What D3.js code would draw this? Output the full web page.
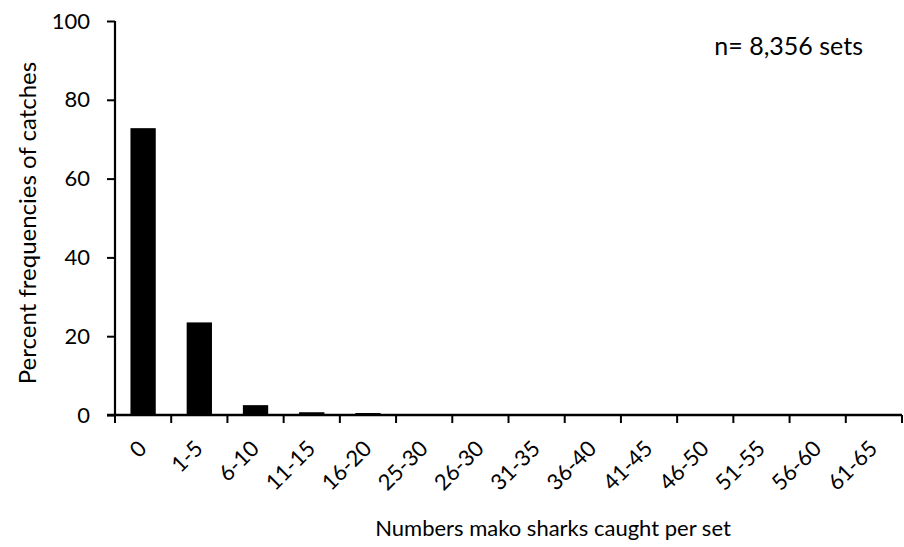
<!DOCTYPE html>
<html>
<head>
<meta charset="utf-8">
<script src="https://cdn.jsdelivr.net/npm/d3@7"></script>
<style>
  body { margin: 0; background: #fff; }
  text { font-family: Lato, "Open Sans", sans-serif; fill: #000; }
</style>
</head>
<body>
<svg id="chart"></svg>
<script>
  //Catch size classes (x axis)
  const categories = ['0', '1-5', '6-10', '11-15', '16-20', '25-30', '26-30', '31-35',
    '36-40', '41-45', '46-50', '51-55', '56-60', '61-65'];
  //Percent of sets in each class
  const percents = [72.8, 23.5, 2.5, 0.7, 0.5, 0.2, 0.15, 0.12, 0.1, 0.1, 0.1, 0.1, 0.08, 0.05];
  //Y axis ticks
  const yTicks = [0, 20, 40, 60, 80, 100];

  const width = 904;
  const height = 547;
  const margin = { top: 21, right: 2, bottom: 132, left: 115 };

  const svg = d3.select('#chart')
    .attr('width', width)
    .attr('height', height);

  const x = d3.scaleBand()
    .domain(categories)
    .range([margin.left, width - margin.right])
    .paddingInner(0.55)
    .paddingOuter(0.275);

  const y = d3.scaleLinear()
    .domain([0, 100])
    .range([height - margin.bottom, margin.top]);

  //Bars
  svg.append('g')
    .selectAll('rect')
    .data(categories)
    .enter().append('rect')
    .attr('x', d => x(d))
    .attr('width', x.bandwidth())
    .attr('y', (d, i) => y(percents[i]))
    .attr('height', (d, i) => y(0) - y(percents[i]))
    .attr('fill', '#000');

  //Y axis
  const yAxis = svg.append('g')
    .attr('transform', `translate(${margin.left},0)`)
    .call(d3.axisLeft(y).tickValues(yTicks).tickSize(8).tickPadding(17));
  yAxis.select('.domain').attr('stroke-width', 2.2).attr('d', `M0,${y(100)}V${y(0)}`);
  yAxis.selectAll('.tick line').attr('stroke-width', 2);
  yAxis.selectAll('.tick text')
    .style('font-family', 'Lato, sans-serif')
    .style('font-size', '22px')
    .attr('fill', '#000');

  //X axis: ticks sit between bands
  const step = x.step();
  const tickPos = d3.range(categories.length + 1).map(i => margin.left + i * step);
  const xAxisG = svg.append('g');
  xAxisG.append('line')
    .attr('x1', margin.left - 8).attr('x2', width - margin.right)
    .attr('y1', y(0)).attr('y2', y(0))
    .attr('stroke', '#000').attr('stroke-width', 2.5);
  xAxisG.selectAll('line.tk')
    .data(tickPos)
    .enter().append('line')
    .attr('class', 'tk')
    .attr('x1', d => d).attr('x2', d => d)
    .attr('y1', y(0)).attr('y2', y(0) + 8)
    .attr('stroke', '#000').attr('stroke-width', 2);

  xAxisG.selectAll('text')
    .data(categories)
    .enter().append('text')
    .attr('text-anchor', 'end')
    .attr('transform', d => `translate(${x(d) + x.bandwidth() / 2 + 5},${y(0) + 35}) rotate(-45)`)
    .style('font-size', '22px')
    .text(d => d);

  //Axis titles
  svg.append('text')
    .attr('text-anchor', 'middle')
    .attr('transform', `translate(36,223) rotate(-90)`)
    .style('font-size', '24px')
    .text('Percent frequencies of catches');

  svg.append('text')
    .attr('x', 553)
    .attr('y', 536)
    .attr('text-anchor', 'middle')
    .style('font-size', '22px')
    .text('Numbers mako sharks caught per set');

  svg.append('text')
    .attr('x', 863)
    .attr('y', 55)
    .attr('text-anchor', 'end')
    .style('font-size', '25px')
    .text('n= 8,356 sets');
</script>
</body>
</html>
